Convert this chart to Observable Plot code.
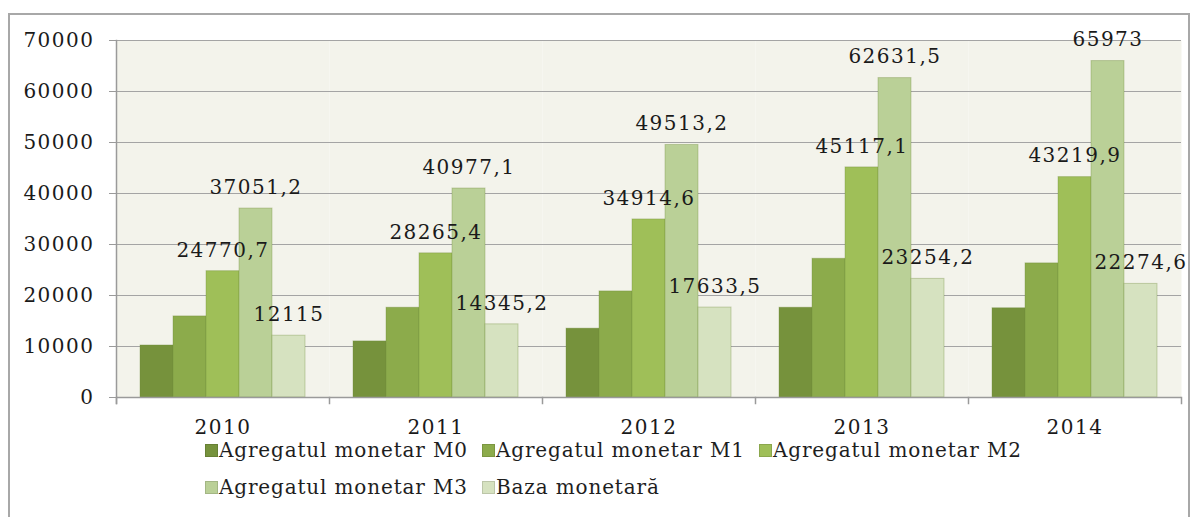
<!DOCTYPE html>
<html>
<head>
<meta charset="utf-8">
<script src="https://cdn.jsdelivr.net/npm/d3@7"></script>
<script src="https://cdn.jsdelivr.net/npm/@observablehq/plot@0.6"></script>
<style>
  html, body { margin: 0; padding: 0; background: #fff; overflow: hidden; }
  #wrap { position: relative; width: 1198px; height: 517px; }
  #border { position: absolute; left: 8px; top: 13px; width: 1178px; height: 520px; border: 2px solid #a8a8a8; }
  #chart { position: absolute; left: 0; top: 0; }
  #legend { position: absolute; left: 205px; top: 440px; width: 900px; color: #1e1e1e; }
  .row { display: flex; height: 20px; line-height: 20px; margin-bottom: 17px; }
  .item { width: 277px; display: flex; align-items: center; white-space: nowrap; }
  .sw { width: 13px; height: 13px; margin-right: 1px; flex: none; box-sizing: border-box; border: 1px solid rgba(0,0,0,0.12); }
</style>
</head>
<body>
<div id="wrap">
  <div id="border"></div>
  <div id="chart"></div>
  <div id="legend"></div>
</div>
<script>
const years = ["2010", "2011", "2012", "2013", "2014"];
const seriesNames = ["Agregatul monetar M0", "Agregatul monetar M1", "Agregatul monetar M2", "Agregatul monetar M3", "Baza monetară"];
const m0 = [10200, 11000, 13500, 17600, 17500];
const m1 = [15900, 17600, 20800, 27200, 26300];
const m2 = [24770.7, 28265.4, 34914.6, 45117.1, 43219.9];
const m3 = [37051.2, 40977.1, 49513.2, 62631.5, 65973];
const baza = [12115, 14345.2, 17633.5, 23254.2, 22274.6];
const labelled = [false, false, true, true, true];
const colors = ["#76923c", "#8cab4b", "#9fbf58", "#bad097", "#d6e2c0"];
const yTicks = [0, 10000, 20000, 30000, 40000, 50000, 60000, 70000];

const seriesValues = [m0, m1, m2, m3, baza];
const rows = [];
years.forEach((yr, i) => {
  seriesNames.forEach((s, j) => {
    rows.push({ year: yr, series: s, value: seriesValues[j][i], label: labelled[j] });
  });
});
const fmt = v => String(v).replace(".", ",");

const FONT = "'DejaVu Serif', 'Liberation Serif', serif";
const W = 1198, H = 445, mT = 40, mB = 48, mL = 116, mR = 17;
const innerH = H - mT - mB;

const chart = Plot.plot({
  width: W, height: H,
  marginTop: mT, marginBottom: mB, marginLeft: mL, marginRight: mR,
  style: { fontFamily: FONT, fontSize: "20px", letterSpacing: "1.5px", color: "#1a1a1a", background: "transparent" },
  fx: { domain: years, padding: 0, label: null },
  x: { domain: seriesNames, paddingInner: 0, paddingOuter: 0.727, axis: null },
  y: { domain: [0, 70000], label: null },
  color: { domain: seriesNames, range: colors },
  marks: [
    Plot.frame({ fill: "#f3f3eb", stroke: null }),
    Plot.gridY(yTicks.slice(1), { stroke: "#a4a4a4", strokeOpacity: 1, strokeWidth: 1.2 }),
    Plot.barY(rows, { fx: "year", x: "series", y: "value", fill: "series", stroke: "#6f8a3a", strokeOpacity: 0.35, strokeWidth: 1 }),
    Plot.ruleY([0], { stroke: "#9a9a9a", strokeWidth: 1.5 }),
    Plot.frame({ anchor: "left", facetAnchor: "left", stroke: "#9a9a9a", strokeWidth: 1.5, insetBottom: -6 }),
    Plot.frame({ anchor: "left", stroke: "#9a9a9a", strokeWidth: 1.5, insetTop: innerH, insetBottom: -6 }),
    Plot.frame({ anchor: "right", facetAnchor: "right", stroke: "#9a9a9a", strokeWidth: 1.5, insetTop: innerH, insetBottom: -6 }),
    Plot.axisY({ ticks: yTicks, tickSize: 7, tickPadding: 15, stroke: "#9a9a9a", fill: "#1a1a1a", fontSize: 20, tickFormat: d => String(d) }),
    Plot.axisFx({ anchor: "bottom", tickSize: 0, tickPadding: 22, fontSize: 20, fill: "#1a1a1a", label: null }),
    Plot.text(rows.filter(d => d.label), { fx: "year", x: "series", y: "value", text: d => fmt(d.value), dy: -21, fontSize: 20, fill: "#1a1a1a" })
  ]
});
document.getElementById("chart").appendChild(chart);

// legend from the series arrays
const legend = document.getElementById("legend");
const rowsDef = [[0, 1, 2], [3, 4]];
rowsDef.forEach(idxs => {
  const r = document.createElement("div");
  r.className = "row";
  idxs.forEach(i => {
    const it = document.createElement("div");
    it.className = "item";
    const sw = document.createElement("span");
    sw.className = "sw";
    sw.style.background = colors[i];
    const tx = document.createElement("span");
    tx.textContent = seriesNames[i];
    tx.style.fontFamily = FONT;
    tx.style.fontSize = "20px";
    tx.style.letterSpacing = "0.85px";
    it.appendChild(sw); it.appendChild(tx);
    r.appendChild(it);
  });
  legend.appendChild(r);
});
</script>
</body>
</html>
